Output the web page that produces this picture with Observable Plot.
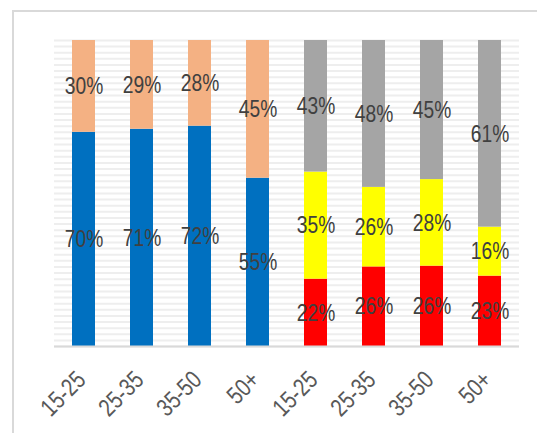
<!DOCTYPE html>
<html>
<head>
<meta charset="utf-8">
<script src="https://cdn.jsdelivr.net/npm/d3@7"></script>
<script src="https://cdn.jsdelivr.net/npm/@observablehq/plot@0.6"></script>
<style>
  html, body { margin: 0; padding: 0; background: #fff; overflow: hidden; }
  #wrap { position: relative; width: 537px; height: 433px; overflow: hidden; }
  #frame { position: absolute; left: 12px; top: 10px; width: 600px; height: 500px; border: 2px solid #d9d9d9; box-sizing: border-box; }
  #chart { position: absolute; left: 0; top: 0; }
</style>
</head>
<body>
<div id="wrap"><div id="frame"></div><div id="chart"></div></div>
<script>
const ageGroups = ["15-25", "25-35", "35-50", "50+"];
// first chart (left four bars), bottom to top
const blueValues = [70, 71, 72, 55];
const peachValues = [30, 29, 28, 45];
// second chart (right four bars), bottom to top
const redValues = [22, 26, 26, 23];
const yellowValues = [35, 26, 28, 16];
const grayValues = [43, 48, 45, 61];

const seriesNames = ["blue", "peach", "red", "yellow", "gray"];
const seriesColors = ["#0070c0", "#f4b183", "#ff0000", "#ffff00", "#a5a5a5"];
const barLabels = [...ageGroups, ...ageGroups];
const gridSteps = d3.range(0, 51).map(i => i / 50);

const rows = [];
ageGroups.forEach((g, i) => {
  rows.push({bar: i, series: "blue", value: blueValues[i]});
  rows.push({bar: i, series: "peach", value: peachValues[i]});
});
ageGroups.forEach((g, i) => {
  rows.push({bar: 4 + i, series: "red", value: redValues[i]});
  rows.push({bar: 4 + i, series: "yellow", value: yellowValues[i]});
  rows.push({bar: 4 + i, series: "gray", value: grayValues[i]});
});
const bars = barLabels.map((label, i) => ({bar: i, label}));

const font = "'Liberation Sans Narrow', 'Arial Narrow', 'Liberation Sans', sans-serif";

const chart = Plot.plot({
  width: 537,
  height: 433,
  marginLeft: 54,
  marginRight: 18,
  marginTop: 40,
  marginBottom: 87,
  style: {fontFamily: font, background: "transparent", overflow: "visible"},
  x: {type: "band", domain: d3.range(8), paddingInner: 0.6, paddingOuter: 0.3, axis: null},
  y: {domain: [0, 1], axis: null},
  color: {domain: seriesNames, range: seriesColors},
  marks: [
    Plot.ruleY(gridSteps, {y: d => d, stroke: "#eeeeee", strokeWidth: 2}),
    Plot.barY(rows, Plot.stackY({offset: "normalize", x: "bar", y: "value", fill: "series", z: "series"})),
    Plot.ruleY([0], {stroke: "#d9d9d9", strokeWidth: 2}),
    Plot.text(rows, Plot.stackY({offset: "normalize", x: "bar", y: "value", z: "series",
      text: d => d.value + "%", fill: "#404040", fontSize: 24, lineAnchor: "middle"})),
    Plot.text(bars, {x: "bar", y: () => 0, text: "label", rotate: -45, textAnchor: "end",
      lineAnchor: "bottom", dx: 3, dy: 35, fill: "#595959", fontSize: 25})
  ]
});
// condense the glyphs (narrow face is not installed)
d3.select(chart).selectAll("text").attr("transform", function() {
  return (this.getAttribute("transform") || "") + " scale(0.8,1)";
});
document.getElementById("chart").appendChild(chart);
</script>
</body>
</html>
